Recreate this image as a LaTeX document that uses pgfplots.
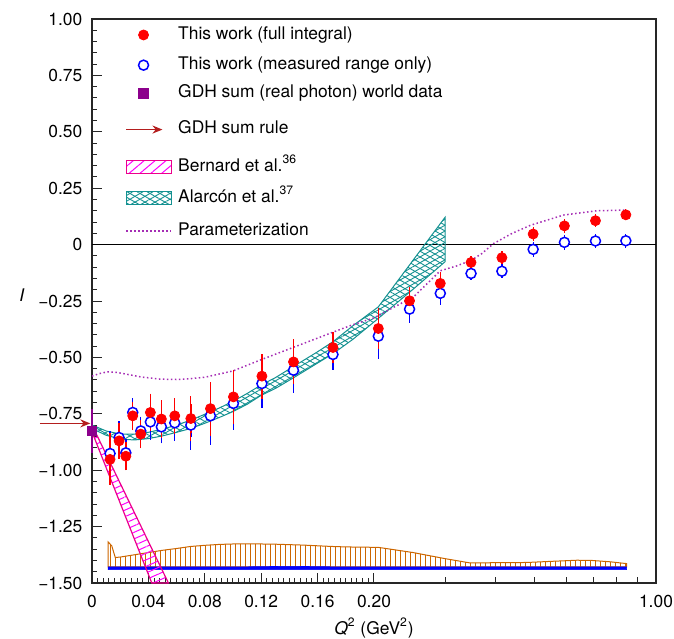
\documentclass[border=0pt]{standalone}
\usepackage{fontspec}
\setmainfont{TeX Gyre Heros}
\usepackage{pgfplots}
\pgfplotsset{compat=1.18}
\usepackage{pgfplotstable}
\usetikzlibrary{patterns,patterns.meta,arrows.meta}

\definecolor{gdhpurple}{RGB}{140,0,140}
\definecolor{arrowred}{RGB}{180,30,30}
\definecolor{bandteal}{RGB}{20,145,145}
\definecolor{bandorange}{RGB}{204,102,0}
\definecolor{parcolor}{RGB}{165,45,180}

% Q2  I  stat  syst
\pgfplotstableread{
q      I      stat   syst
0.0128 -0.952 0.115  0.06
0.0192 -0.870 0.08   0.05
0.0240 -0.938 0.06   0.04
0.0289 -0.759 0.05   0.04
0.0346 -0.840 0.05   0.04
0.0414 -0.744 0.08   0.06
0.0492 -0.773 0.07   0.06
0.0587 -0.759 0.08   0.05
0.0701 -0.771 0.10   0.04
0.0840 -0.727 0.12   0.03
0.1003 -0.675 0.12   0.03
0.1205 -0.583 0.10   0.03
0.1429 -0.520 0.10   0.02
0.1709 -0.456 0.07   0.02
0.2050 -0.372 0.09   0.02
0.2450 -0.249 0.06   0.02
0.2920 -0.172 0.05   0.02
0.3480 -0.079 0.03   0.01
0.4150 -0.058 0.03   0.01
0.4960  0.047 0.03   0.01
0.5930  0.083 0.03   0.01
0.7080  0.106 0.03   0.01
0.8420  0.132 0.025  0.01
}\fullint

\pgfplotstableread{
q      I      stat   syst
0.0128 -0.926 0.10   0.077
0.0192 -0.855 0.07   0.05
0.0240 -0.923 0.06   0.04
0.0289 -0.744 0.05   0.04
0.0346 -0.826 0.05   0.04
0.0414 -0.786 0.08   0.05
0.0492 -0.808 0.07   0.05
0.0587 -0.790 0.08   0.04
0.0701 -0.800 0.11   0.03
0.0840 -0.759 0.13   0.03
0.1003 -0.704 0.12   0.02
0.1205 -0.616 0.11   0.02
0.1429 -0.557 0.10   0.02
0.1709 -0.487 0.07   0.02
0.2050 -0.406 0.10   0.02
0.2450 -0.286 0.06   0.02
0.2920 -0.216 0.05   0.01
0.3480 -0.128 0.03   0.005
0.4150 -0.118 0.03   0.005
0.4960 -0.021 0.032  0.005
0.5930  0.010 0.032  0.005
0.7080  0.016 0.032  0.005
0.8420  0.017 0.03   0.005
}\measured

\begin{document}
\begin{tikzpicture}[font=\fontsize{8.7}{10.4}\selectfont]
\begin{axis}[
  scale only axis, width=282pt, height=282pt,
  xmin=0, xmax=1, ymin=-1.5, ymax=1,
  x coord trafo/.code={\pgfmathparse{#1<=0.2 ? #1/0.2 : 1+ln(max(#1,0.01)/0.2)/ln(5)}},
  x coord inv trafo/.code={\pgfmathparse{#1<=1 ? #1*0.2 : 0.2*exp(ln(5)*(#1-1))}},
  clip=false,
  axis line style={line width=0.6pt, black!85},
  tick align=inside, tick pos=left,
  major tick length=5pt, minor tick length=2.5pt,
  every tick/.style={black!85, line width=0.5pt},
  xtick={0,0.04,0.08,0.12,0.16,0.2,1},
  xticklabels={0,0.04,0.08,0.12,0.16,0.20,1.00},
  minor xtick={0.004,0.008,...,0.196},
  extra x ticks={0.3,0.4,0.5,0.6,0.7,0.8,0.9},
  extra x tick labels={},
  extra x tick style={major tick length=3pt},
  ytick={-1.5,-1.25,-1,-0.75,-0.5,-0.25,0,0.25,0.5,0.75,1},
  yticklabels={−1.50,−1.25,−1.00,−0.75,−0.50,−0.25,0,0.25,0.50,0.75,1.00},
  minor y tick num=4,
  xticklabel style={yshift=-2.6pt},
  yticklabel style={xshift=-1.3pt},
  xlabel={\textit{Q}\textsuperscript{2} (GeV\textsuperscript{2})},
  ylabel={\textit{I}},
  xlabel style={at={(axis description cs:0.5,-0.08)}, anchor=center},
  ylabel style={at={(axis description cs:-0.124,0.51)}, rotate=-90, anchor=center},
  legend cell align=left,
  legend style={at={(axis description cs:0.059,0.996)}, anchor=north west,
    draw=none, fill=none, inner sep=0pt, row sep=3.3pt, column sep=1.5pt,
    font=\fontsize{8.7}{10.4}\selectfont,
    nodes={inner sep=1.5pt, text height=6.3pt, text depth=2pt}},
]

% legend images
\addlegendimage{only marks, mark=*, mark size=2.5pt, red}
\addlegendentry[text height=7.3pt, text depth=3pt]{This work (full integral)}
\addlegendimage{only marks, mark=o, mark size=2.5pt, blue, mark options={line width=0.75pt}}
\addlegendentry[text height=5.8pt, text depth=1.5pt]{This work (measured range only)}
\addlegendimage{only marks, mark=square*, mark size=2.5pt, gdhpurple}
\addlegendentry{GDH sum (real photon) world data}
\addlegendimage{legend image code/.code={\draw[arrowred, line width=0.8pt, -{Stealth[length=5pt,width=4pt]}] (0pt,0pt) -- (18pt,0pt);}}
\addlegendentry[text height=9.8pt, text depth=5.5pt]{GDH sum rule}
\addlegendimage{legend image code/.code={\draw[magenta, line width=0.6pt, pattern={Lines[angle=40,distance=3.5pt,line width=0.5pt]}, pattern color=magenta] (0pt,-3.2pt) rectangle (22.5pt,3.2pt);}}
\addlegendentry[text height=6.8pt, text depth=2.5pt]{Bernard et al.\textsuperscript{36}}
\addlegendimage{legend image code/.code={\fill[pattern={Lines[angle=30,distance=2.5pt,line width=0.45pt]}, pattern color=bandteal] (0pt,-3.2pt) rectangle (22.5pt,3.2pt);
  \draw[bandteal, line width=0.6pt, pattern={Lines[angle=-30,distance=2.5pt,line width=0.45pt]}, pattern color=bandteal] (0pt,-3.2pt) rectangle (22.5pt,3.2pt);}}
\addlegendentry[text height=6.8pt, text depth=2.5pt]{Alarcón et al.\textsuperscript{37}}
\addlegendimage{legend image code/.code={\draw[parcolor, line width=0.75pt, dash pattern=on 0.75pt off 1.25pt] (0pt,0pt) -- (22.5pt,0pt);}}
\addlegendentry[text height=7.8pt, text depth=3.5pt]{Parameterization}

% zero line
\addplot[forget plot, black, line width=0.6pt] coordinates {(0,0) (1,0)};

% systematic bands at the bottom
\addplot[forget plot, draw=bandorange, line width=0.5pt,
  pattern={Lines[angle=90,distance=2.5pt,line width=0.5pt]}, pattern color=bandorange]
  coordinates {(0.0114,-1.428) (0.0114,-1.318) (0.0140,-1.335) (0.0165,-1.387)
  (0.02,-1.385) (0.03,-1.375) (0.04,-1.365) (0.05,-1.355) (0.06,-1.347)
  (0.07,-1.338) (0.08,-1.333) (0.09,-1.329) (0.10,-1.327) (0.11,-1.327)
  (0.12,-1.327) (0.13,-1.328) (0.14,-1.330) (0.15,-1.332) (0.16,-1.335)
  (0.17,-1.338) (0.18,-1.340) (0.19,-1.341) (0.205,-1.342) (0.25,-1.365)
  (0.30,-1.392) (0.346,-1.411) (0.40,-1.410) (0.479,-1.409) (0.55,-1.404)
  (0.637,-1.399) (0.693,-1.400) (0.77,-1.406) (0.846,-1.414) (0.846,-1.428)} -- cycle;
\addplot[forget plot, draw=blue, fill=blue, line width=0.3pt]
  coordinates {(0.0114,-1.429) (0.10,-1.429) (0.14,-1.426) (0.18,-1.429) (0.846,-1.429)
  (0.846,-1.441) (0.0114,-1.441)} -- cycle;

% Bernard et al. band
\addplot[forget plot, draw=magenta, line width=0.6pt,
  pattern={Lines[angle=24,distance=3pt,line width=0.5pt]}, pattern color=magenta]
  coordinates {(0,-0.800) (0.0542,-1.5) (0.0424,-1.5) (0,-0.830)} -- cycle;

% Alarcon et al. band
\addplot[forget plot, draw=bandteal, line width=0.5pt,
  pattern={Lines[angle=30,distance=2.5pt,line width=0.45pt]}, pattern color=bandteal]
  coordinates {(0,-0.800) (0.01,-0.826) (0.02,-0.840) (0.03,-0.840) (0.04,-0.832)
  (0.05,-0.818) (0.06,-0.800) (0.07,-0.778) (0.08,-0.752) (0.09,-0.725)
  (0.10,-0.695) (0.11,-0.660) (0.12,-0.622) (0.13,-0.590) (0.143,-0.540)
  (0.16,-0.475) (0.171,-0.430) (0.185,-0.360) (0.205,-0.276) (0.30,0.121)
  (0.30,-0.076) (0.253,-0.190) (0.205,-0.327) (0.185,-0.420) (0.171,-0.483)
  (0.16,-0.525) (0.143,-0.590) (0.13,-0.638) (0.12,-0.668) (0.11,-0.708)
  (0.10,-0.740) (0.09,-0.767) (0.08,-0.792) (0.07,-0.815) (0.06,-0.832)
  (0.05,-0.848) (0.04,-0.860) (0.03,-0.866) (0.02,-0.862) (0.01,-0.845)
  (0,-0.815)} -- cycle;
\addplot[forget plot, draw=none,
  pattern={Lines[angle=-30,distance=2.5pt,line width=0.45pt]}, pattern color=bandteal]
  coordinates {(0,-0.800) (0.01,-0.826) (0.02,-0.840) (0.03,-0.840) (0.04,-0.832)
  (0.05,-0.818) (0.06,-0.800) (0.07,-0.778) (0.08,-0.752) (0.09,-0.725)
  (0.10,-0.695) (0.11,-0.660) (0.12,-0.622) (0.13,-0.590) (0.143,-0.540)
  (0.16,-0.475) (0.171,-0.430) (0.185,-0.360) (0.205,-0.276) (0.30,0.121)
  (0.30,-0.076) (0.253,-0.190) (0.205,-0.327) (0.185,-0.420) (0.171,-0.483)
  (0.16,-0.525) (0.143,-0.590) (0.13,-0.638) (0.12,-0.668) (0.11,-0.708)
  (0.10,-0.740) (0.09,-0.767) (0.08,-0.792) (0.07,-0.815) (0.06,-0.832)
  (0.05,-0.848) (0.04,-0.860) (0.03,-0.866) (0.02,-0.862) (0.01,-0.845)
  (0,-0.815)} -- cycle;

% parameterization
\addplot[forget plot, parcolor, line width=0.75pt, dash pattern=on 0.75pt off 1.25pt]
  coordinates {(0,-0.583) (0.005,-0.572) (0.011,-0.564) (0.018,-0.567)
  (0.025,-0.575) (0.035,-0.587) (0.048,-0.596) (0.06,-0.598) (0.07,-0.594)
  (0.08,-0.588) (0.10,-0.560) (0.12,-0.510) (0.143,-0.455) (0.171,-0.388)
  (0.185,-0.355) (0.2,-0.325) (0.207,-0.310) (0.251,-0.231) (0.292,-0.116)
  (0.32,-0.095) (0.348,-0.070) (0.37,-0.040) (0.396,0.005) (0.44,0.050)
  (0.489,0.086) (0.59,0.131) (0.714,0.150) (0.84,0.153)};

% GDH sum rule arrow
\addplot[forget plot, arrowred, line width=0.8pt, -{Stealth[length=5pt,width=4pt]}]
  coordinates {(-0.0369,-0.7925) (-0.0012,-0.7925)};

% error bars: statistical (lines) and systematic (caps)
\addplot[forget plot, draw=none, mark=none,
  error bars/.cd, y dir=both, y explicit, error mark=none,
  error bar style={draw=blue, line width=0.6pt}]
  table[x=q, y=I, y error=stat] {\measured};
\addplot[forget plot, draw=none, mark=none, skip coords between index={17}{23},
  error bars/.cd, y dir=both, y explicit,
  error bar style={draw=blue, line width=0.6pt},
  error mark options={draw=blue, mark size=2.6pt, line width=0.7pt}]
  table[x=q, y=I, y error=syst] {\measured};
\addplot[forget plot, draw=none, mark=none,
  error bars/.cd, y dir=both, y explicit, error mark=none,
  error bar style={draw=red, line width=0.6pt}]
  table[x=q, y=I, y error=stat] {\fullint};
\addplot[forget plot, draw=none, mark=none, skip coords between index={17}{23},
  error bars/.cd, y dir=both, y explicit,
  error bar style={draw=red, line width=0.6pt},
  error mark options={draw=red, mark size=2.6pt, line width=0.7pt}]
  table[x=q, y=I, y error=syst] {\fullint};

% data points
\addplot[forget plot, only marks, mark=*, mark size=2.5pt,
  mark options={draw=blue, fill=white, line width=0.75pt}]
  table[x=q, y=I] {\measured};
\addplot[forget plot, only marks, mark=*, red, mark size=2.5pt]
  table[x=q, y=I] {\fullint};

% real photon world data
\addplot[forget plot, only marks, mark=square*, mark size=2.3pt, gdhpurple,
  error bars/.cd, y dir=both, y explicit,
  error bar style={draw=gdhpurple, line width=0.8pt},
  error mark options={draw=gdhpurple, mark size=3.5pt, line width=0.8pt}]
  coordinates {(0,-0.827) +- (0,0.067)};

\end{axis}
\pgfresetboundingbox
\path (-46pt,-27.5pt) rectangle (291pt,291.5pt);
\end{tikzpicture}
\end{document}
